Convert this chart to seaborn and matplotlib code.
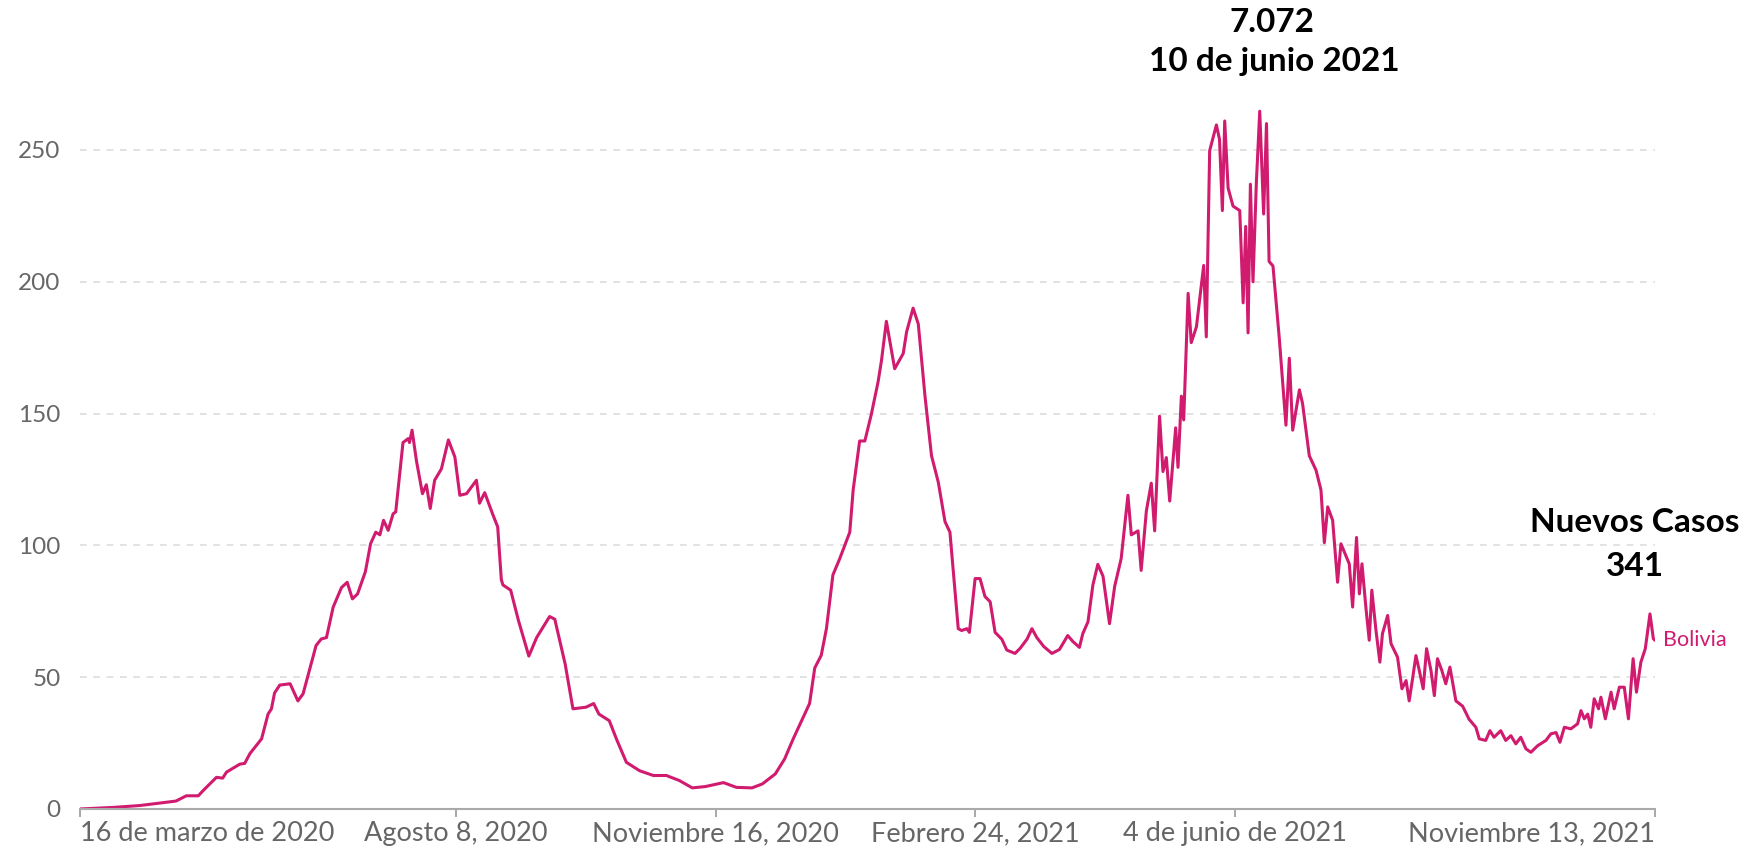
import pandas as pd
import numpy as np
import matplotlib
matplotlib.use("Agg")
import matplotlib.pyplot as plt
import seaborn as sns

# days since 16 march 2020 and the value
start = "2020-03-16"
days = [0, 13, 23, 37, 41, 45.6, 47.5, 52.6, 55, 56.5, 61.6, 63.5, 65.5, 70, 72.5, 73.8, 75, 77,
        81, 84, 86, 91, 93, 95, 97.6, 100.8, 103, 105, 107, 110, 112, 114, 115.6, 117, 118.8,
        120.7, 121.7, 124.5, 126.5, 127, 128, 129.7, 132, 133.5, 135, 136.7, 139.3, 142, 144.5,
        146.4, 149, 152.8, 154, 156, 159, 161, 162.4, 163, 166, 169, 173, 176, 181, 183, 187,
        190, 195, 198, 200, 204, 207, 210.6, 215.7, 221, 226, 231, 236, 241, 248, 253, 259,
        263, 268, 271.6, 274.8, 278.6, 281.2, 283.2, 285.7, 287.7, 290.2, 292.8, 296.7, 298,
        300.5, 302.5, 305, 307.6, 308.9, 310.8, 314, 317.3, 318.6, 321.1, 323.1, 325.7, 328.2,
        330.8, 333.4, 335.3, 338.5, 339.8, 341.8, 342.8, 345, 346.9, 348.8, 350.8, 352.7,
        355.3, 357.2, 360.4, 362.4, 365, 366.9, 368.8, 371.4, 374.6, 377.5, 380.7, 382.7,
        385.2, 386.5, 388.5, 390.4, 392.3, 394.3, 396.8, 398.8, 401.3, 403.9, 405.2, 407.8,
        409, 411, 412.9, 414.2, 416.1, 417.4, 418.7, 420, 422.3, 423.2, 424.5, 425.4, 427.1,
        428.3, 430.3, 433.1, 434.1, 435.4, 438, 439.2, 440.3, 441.2, 442.5, 444.4, 447, 448.3,
        449.3, 450.2, 451.1, 452.1, 453.4, 454.7, 456.2, 457.3, 458.3, 459.8, 462.2, 464.8,
        466.1, 467.4, 470, 471.2, 473.8, 476.4, 478.3, 479.6, 480.9, 482.8, 484.7, 486, 489.2,
        490.5, 492, 493.1, 494.1, 495.6, 496.9, 497.9, 499.5, 501, 502, 504, 505.3, 507.8,
        509.5, 511.1, 512.3, 513.6, 514.9, 516.2, 517.7, 519, 520.7, 522, 523.2, 524.9, 526.4,
        528, 530.3, 532.9, 535.4, 538, 539.3, 541.8, 543.4, 545, 547.6, 549.5, 551.5, 553.4,
        555.3, 557.3, 559.2, 561.8, 565, 566.9, 568.9, 570.4, 572.1, 574.6, 577.2, 578.5,
        579.8, 581.1, 582.3, 583.6, 585.3, 586.2, 587.9, 590.1, 591.3, 593.3, 595.2, 596.8,
        598.6, 599.9, 601.6, 603.3, 605.1, 606.4, 607]
values = [0, 0.6, 1.3, 3, 5, 5, 7, 12, 11.7, 14, 17, 17.3, 21, 26.6, 36, 38, 44, 47,
          47.5, 41, 43.7, 62, 64.5, 65, 76.6, 84, 86, 79.7, 81.6, 90, 100.6, 105, 104, 109.5, 105.7,
          112, 112.7, 139, 140.5, 139, 143.7, 132, 119.6, 123, 114, 124.7, 129, 140, 133.5,
          119, 119.6, 124.7, 116, 120, 112, 107, 87, 85, 83, 71.5, 58, 65, 73, 72, 55,
          38, 38.6, 40, 36, 33.5, 26, 17.7, 14.5, 12.7, 12.7, 10.8, 8, 8.5, 10, 8.2, 8,
          9.5, 13.3, 19, 26.4, 34.5, 40, 53.5, 58.3, 68.4, 88.8, 94.9, 105, 121,
          139.6, 139.6, 149.7, 162, 170, 185, 167, 172.8, 181, 190, 184, 156.5, 134,
          124, 109, 105, 68.4, 67.7, 68.4, 67, 87.4, 87.4, 80.6, 78.6, 67,
          64.4, 60.3, 59, 61, 64.4, 68.4, 65, 61.7, 59, 60.5, 65.8, 63.5,
          61.3, 66.5, 71, 85, 92.8, 88.3, 70.3, 84.5, 95, 119, 104, 105.5,
          90.5, 113, 123.6, 105.5, 149, 128, 133.3, 116.8, 144.6, 129.6, 156.6, 147.6, 195.6,
          176.9, 182.9, 206.2, 179.1, 249.7, 259.5, 254, 227, 261, 235.6, 228.7, 227, 192,
          221, 180.6, 237, 200, 237.7, 264.7, 225.7, 260, 207.7, 206, 179, 145.6,
          171, 143.7, 159, 153.8, 134, 128.5, 121, 101, 114.6, 109.5, 86, 100.6, 93,
          76.6, 103, 81.6, 93, 76.6, 64, 83, 67.7, 55.7, 66.5, 73.4, 62.7, 57.6,
          45.6, 48.7, 41, 49.4, 58.2, 52.5, 45.6, 60.8, 52.5, 43, 57, 52.5, 47.5,
          53.8, 41, 39, 34, 31, 26.6, 26, 29.7, 27.2, 29.7, 26, 27.8, 24.7,
          27.2, 22.8, 21.5, 24, 26, 28.5, 29, 25.3, 31, 30.4, 32.3, 37.3,
          34.2, 36, 31, 41.8, 38, 42.4, 34.2, 44.3, 38, 46.2, 46.2, 34.2,
          57, 44.3, 55.7, 60.8, 74, 64.6, 64]

tick_dates = ["2020-03-16", "2020-08-08", "2020-11-16", "2021-02-24", "2021-06-04", "2021-11-13"]
tick_labels = ["16 de marzo de 2020", "Agosto 8, 2020", "Noviembre 16, 2020",
               "Febrero 24, 2021", "4 de junio de 2021", "Noviembre 13, 2021"]
y_ticks = [0, 50, 100, 150, 200, 250]
country = "Bolivia"
peak_text = ["7.072", "10 de junio 2021"]
last_text = ["Nuevos Casos", "341"]

df = pd.DataFrame({"fecha": pd.Timestamp(start) + pd.to_timedelta(days, unit="D"),
                   "casos": values})

sns.set_style("white")
plt.rcParams["font.family"] = ["Lato", "DejaVu Sans"]

color = "#d01b6f"
grey = "#666666"

fig = plt.figure(figsize=(17.42, 8.52), dpi=100)
ax = fig.add_axes([0.0459, 0.0505, 0.9041, 0.823])

sns.lineplot(data=df, x="fecha", y="casos", color=color, linewidth=2.2, ax=ax)

ax.set_xlim(pd.Timestamp(tick_dates[0]), df["fecha"].iloc[-1])
ax.set_ylim(0, 266)

ax.set_yticks(y_ticks)
ax.set_yticklabels([str(v) for v in y_ticks])
ax.yaxis.grid(True, color="#dddddd", linestyle=(0, (4, 4)), linewidth=1.2)
ax.xaxis.grid(False)
ax.tick_params(axis="y", length=0, pad=14, labelsize=17.5, labelcolor=grey)

ax.set_xticks(pd.to_datetime(tick_dates))
ax.set_xticklabels(tick_labels)
ax.tick_params(axis="x", length=6, width=1.2, color="#999999", pad=3, labelsize=19.5,
               labelcolor=grey, direction="out", bottom=True)
labels = ax.get_xticklabels()
labels[0].set_ha("left")
labels[-1].set_ha("right")

for s in ["top", "right", "left"]:
    ax.spines[s].set_visible(False)
ax.spines["bottom"].set_color("#aaaaaa")
ax.spines["bottom"].set_linewidth(1.5)

ax.set_xlabel("")
ax.set_ylabel("")

# country label at the end of the line
ax.annotate(country, xy=(df["fecha"].iloc[-1], values[-1]), xytext=(6, 0),
            textcoords="offset points", va="center", ha="left", color=color, fontsize=15.5)

fig.text(1272 / 1742, 1 - 22 / 852, peak_text[0], ha="center", va="center",
         fontsize=24, fontweight="bold", color="black")
fig.text(1274 / 1742, 1 - 62 / 852, peak_text[1], ha="center", va="center",
         fontsize=24, fontweight="bold", color="black")
fig.text(1635 / 1742, 1 - 522 / 852, last_text[0], ha="center", va="center",
         fontsize=24, fontweight="bold", color="black")
fig.text(1635 / 1742, 1 - 567 / 852, last_text[1], ha="center", va="center",
         fontsize=24, fontweight="bold", color="black")

fig.savefig("out.png", dpi=100)
